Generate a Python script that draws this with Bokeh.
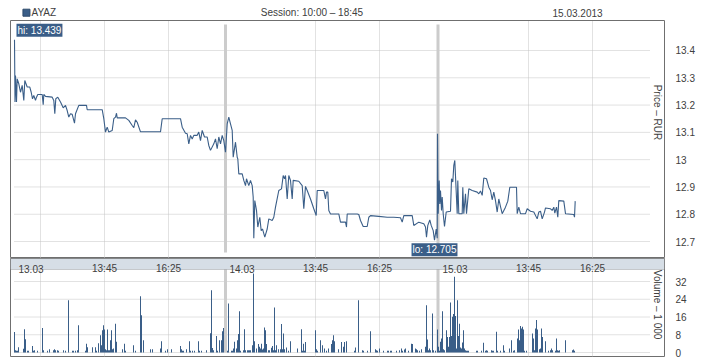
import math
from bokeh.plotting import figure
from bokeh.layouts import column
from bokeh.models import Range1d, FixedTicker, Span, Label, Grid, PrintfTickFormatter, BoxAnnotation
from bokeh.core.properties import value
from bokeh.embed import file_html
from bokeh.resources import INLINE

# ---------------- data ----------------
TICKER = "AYAZ"
SESSION_TEXT = "Session: 10:00 \u2013 18:45"
DATE_TEXT = "15.03.2013"
SLOT_MIN = 2.5            # minutes per x unit
OPEN_MIN = 600            # 10:00
session_start = [0, 211, 424]
session_sep = [211, 423.5]
session_label = ["13.03", "14.03", "15.03"]
time_label = ["13:45", "16:25"]
extra_grid_time = ["11:05"]   # unlabeled gridline in first session

s1_t = [0, 0.5, 1, 2, 2.7, 4.3, 6, 7.7, 9.3, 10.3,
        12.7, 15.3, 16.7, 18, 19.3, 21, 22, 23.3, 27.7, 28.7,
        29.3, 31, 37.7, 39.3, 40.3, 41.3, 43.3, 46, 48.7, 51,
        52.7, 54.3, 56, 57.7, 60, 61, 64.3, 72, 72.7, 87.7,
        89.3, 91, 92.7, 94.3, 97.7, 99.3, 101, 102, 102.7, 111,
        114.3, 117.7, 119.3, 121, 122.7, 126, 146, 147.7, 166, 167.7,
        171, 172.7, 174.3, 176, 177.7, 179.3, 182.7, 184.3, 186, 187.7,
        190, 192.7, 194.3, 196, 199.3, 201, 202.7, 204.3, 206, 207.7,
        209.3]
s1_p = [13.439, 13.211, 13.308, 13.211, 13.296, 13.278, 13.247, 13.272, 13.217, 13.290,
        13.266, 13.266, 13.247, 13.223, 13.235, 13.217, 13.229, 13.239, 13.239, 13.201,
        13.239, 13.232, 13.229, 13.217, 13.168, 13.223, 13.229, 13.211, 13.190, 13.199,
        13.180, 13.156, 13.168, 13.166, 13.134, 13.168, 13.199, 13.199, 13.183, 13.183,
        13.150, 13.101, 13.119, 13.101, 13.107, 13.150, 13.156, 13.170, 13.153, 13.153,
        13.144, 13.125, 13.117, 13.146, 13.137, 13.102, 13.102, 13.150, 13.150, 13.119,
        13.097, 13.095, 13.058, 13.089, 13.076, 13.089, 13.089, 13.101, 13.070, 13.107,
        13.083, 13.083, 13.052, 13.034, 13.058, 13.076, 13.040, 13.083, 13.058, 13.089,
        13.070]

s2_t = [211, 212.7, 214.3, 216, 217.7, 218.7, 221, 222.7, 223.3, 224.3,
        227.7, 229.3, 231, 232, 234.3, 236, 237.7, 238.7, 239.3, 240.3,
        242, 243.3, 245.3, 246.7, 248, 250.3, 252.7, 254.3, 257.7, 259.3,
        261, 264.3, 267, 268.7, 270, 271, 272.7, 274.3, 276, 277.7,
        278.7, 284.3, 287.7, 289.3, 291, 292.7, 296, 299.3, 301.7, 302.7,
        309.3, 311, 312, 313.3, 314.3, 316, 324.3, 326, 331, 332,
        332.7, 342.7, 344.3, 346, 348.7, 352.7, 354.3, 356, 364.3, 372.7,
        379.3, 386, 387.7, 389.3, 397.7, 399.3, 404.3, 409.3, 411, 412,
        413.3, 415.3, 416.7, 418.7, 420, 421.7, 422.7]
s2_p = [13.027, 13.131, 13.156, 13.131, 13.107, 13.009, 13.064, 13.009, 13.003, 12.948,
        12.948, 12.924, 12.905, 12.930, 12.905, 12.924, 12.905, 12.862, 12.712, 12.850,
        12.814, 12.753, 12.789, 12.740, 12.746, 12.716, 12.746, 12.783, 12.777, 12.789,
        12.826, 12.887, 12.893, 12.942, 12.930, 12.942, 12.856, 12.942, 12.924, 12.856,
        12.924, 12.921, 12.905, 12.820, 12.902, 12.887, 12.856, 12.820, 12.795, 12.887,
        12.887, 12.856, 12.881, 12.881, 12.814, 12.801, 12.801, 12.771, 12.771, 12.753,
        12.801, 12.801, 12.799, 12.777, 12.755, 12.755, 12.789, 12.795, 12.792, 12.789,
        12.789, 12.787, 12.771, 12.795, 12.795, 12.759, 12.771, 12.765, 12.753, 12.716,
        12.759, 12.779, 12.759, 12.740, 12.705, 12.746, 12.712]

s3_t = [423, 423.7, 424.7, 425.3, 426, 427, 427.7, 428.7, 430, 431.7,
        436, 437, 438.3, 439.3, 440.3, 442.7, 443.3, 444.3, 447.7, 448.3,
        449.3, 451, 452, 454.3, 457.7, 462.7, 464.3, 466, 467.7, 469.3,
        472, 474.3, 476, 477.7, 479.3, 481, 482.7, 484.3, 486, 487.7,
        491, 493.3, 495.3, 502, 502.7, 504.3, 506, 511, 512.7, 516,
        519.3, 522.7, 524.3, 526, 527.7, 530, 531, 536, 537.7, 539.3,
        540.3, 542, 543.3, 544.3, 549.3, 551, 559.3, 560, 560.7]
s3_p = [13.095, 12.802, 12.924, 12.838, 12.887, 12.814, 12.863, 12.802, 12.755, 12.808,
        12.811, 12.930, 12.918, 12.979, 12.997, 12.802, 12.924, 12.802, 12.802, 12.899,
        12.802, 12.875, 12.802, 12.893, 12.887, 12.881, 12.875, 12.885, 12.869, 12.933,
        12.930, 12.899, 12.887, 12.853, 12.881, 12.850, 12.808, 12.856, 12.828, 12.802,
        12.826, 12.848, 12.899, 12.899, 12.802, 12.826, 12.802, 12.802, 12.820, 12.811,
        12.808, 12.783, 12.808, 12.811, 12.783, 12.808, 12.823, 12.820, 12.814, 12.826,
        12.804, 12.826, 12.789, 12.850, 12.848, 12.802, 12.799, 12.789, 12.848]

vol_t = [0, 1, 2, 3, 4, 9, 10, 11, 13, 14,
         18, 19, 20, 23, 28, 29, 33, 35, 39, 40,
         41, 43, 44, 49, 51, 54, 58, 59, 61, 63,
         64, 71, 72, 73, 78, 81, 82, 84, 86, 87,
         88, 89, 90, 91, 92, 93, 94, 95, 96, 97,
         98, 99, 101, 102, 108, 110, 111, 119, 121, 126,
         127, 129, 136, 138, 146, 147, 151, 153, 157, 166,
         167, 168, 169, 172, 175, 176, 178, 180, 184, 185,
         187, 192, 196, 197, 198, 199, 202, 203, 205, 207,
         208, 209,
         213, 214, 217, 218, 219, 220, 222, 223, 224, 225,
         226, 229, 230, 231, 233, 234, 235, 236, 238, 239,
         240, 242, 244, 245, 246, 247, 248, 249, 250, 251,
         252, 254, 255, 257, 258, 259, 260, 261, 262, 264,
         266, 267, 268, 269, 270, 272, 274, 276, 283, 287,
         288, 289, 290, 291, 301, 302, 303, 306, 308, 310,
         312, 314, 317, 318, 319, 320, 324, 327, 329, 330,
         332, 340, 341, 344, 348, 349, 353, 356, 361, 362,
         363, 365, 369, 373, 374, 376, 377, 382, 385, 387,
         388, 390, 391, 394, 397, 398, 401, 402, 403, 405,
         407, 411, 412, 413, 414, 415, 416, 418, 419, 421,
         423, 424, 425, 426, 427, 428, 429, 430, 432, 433,
         434, 435, 436, 437, 438, 439, 440, 441, 442, 443,
         444, 445, 446, 447, 448, 449, 450, 451, 452, 453,
         454, 462, 463, 467, 469, 471, 472, 473, 477, 478,
         479, 482, 483, 486, 489, 490, 495, 497, 499, 500,
         503, 504, 505, 506, 507, 508, 509, 510, 512, 518,
         519, 520, 521, 522, 523, 525, 526, 527, 528, 531,
         534, 536, 537, 538, 541, 542, 543, 544, 545, 551,
         558, 559, 560]
vol_v = [9.2, 1.0, 0.8, 0.8, 2.4, 1.7, 10.5, 6.0, 0.8, 0.8,
         2.9, 0.8, 1.0, 0.8, 11.0, 1.0, 0.8, 1.5, 1.0, 1.5,
         1.0, 1.0, 0.8, 1.0, 0.8, 23.6, 0.8, 0.8, 0.8, 1.0,
         12.3, 0.8, 4.0, 2.4, 2.4, 2.4, 0.8, 4.2, 7.8, 3.3,
         10.0, 12.3, 10.4, 1.5, 1.0, 10.4, 1.0, 1.0, 5.5, 10.0,
         1.5, 1.8, 13.0, 4.8, 1.5, 4.0, 0.8, 3.3, 0.8, 25.4,
         16.8, 5.5, 1.5, 1.5, 1.8, 5.1, 0.8, 1.5, 1.5, 2.9,
         1.5, 0.8, 0.8, 1.5, 5.1, 0.8, 0.8, 0.8, 5.1, 0.8,
         0.8, 1.0, 8.7, 28.1, 2.0, 1.0, 7.4, 0.8, 5.5, 5.5,
         9.6, 11.1,
         0.8, 22.1, 0.8, 0.8, 1.8, 4.8, 1.8, 5.5, 8.3, 18.6,
         0.8, 1.0, 10.5, 1.0, 1.0, 1.0, 1.0, 1.0, 3.3, 35.6,
         5.1, 1.8, 3.8, 2.6, 1.8, 4.0, 1.4, 1.8, 11.3, 10.0,
         3.8, 1.0, 1.0, 2.1, 2.9, 1.0, 20.3, 1.0, 3.3, 1.5,
         1.5, 12.8, 1.5, 8.6, 1.5, 2.3, 0.8, 5.1, 1.8, 10.5,
         0.8, 4.0, 0.8, 4.7, 10.0, 1.5, 0.8, 5.5, 3.3, 1.8,
         0.8, 1.8, 3.8, 5.5, 7.8, 5.1, 1.5, 4.7, 2.6, 4.7,
         5.1, 0.8, 2.3, 23.6, 1.0, 0.8, 0.8, 9.6, 1.5, 1.0,
         0.8, 1.8, 0.8, 0.8, 0.8, 0.8, 0.8, 0.8, 1.0, 1.8,
         0.8, 1.4, 1.8, 0.8, 4.0, 3.8, 1.8, 1.5, 1.0, 0.8,
         1.5, 2.6, 21.3, 5.9, 1.0, 1.8, 1.0, 17.6, 1.0, 0.8,
         10.4, 2.6, 0.8, 4.8, 6.3, 18.6, 1.5, 1.0, 10.0, 7.0,
         2.6, 7.0, 22.5, 7.4, 16.1, 17.3, 34.1, 16.4, 1.8, 23.6,
         7.4, 13.0, 2.3, 1.8, 4.5, 10.0, 1.8, 1.0, 0.8, 0.8,
         0.8, 0.8, 0.8, 0.8, 4.4, 0.8, 1.0, 0.8, 1.0, 0.8,
         0.8, 9.3, 0.8, 0.8, 3.3, 0.8, 1.8, 5.5, 0.8, 1.0,
         6.3, 10.4, 5.5, 11.9, 10.8, 11.6, 10.4, 0.8, 0.8, 8.6,
         6.3, 1.0, 10.8, 14.6, 10.4, 1.5, 1.8, 10.8, 7.0, 5.1,
         0.8, 1.0, 1.8, 1.0, 0.8, 6.3, 1.0, 0.8, 1.0, 5.5,
         1.0, 1.4, 0.8]

price_ticks = [12.7, 12.8, 12.9, 13.0, 13.1, 13.2, 13.3, 13.4]
vol_ticks = [0, 8, 16, 24, 32]

# ---------------- style ----------------
FONT = "Liberation Sans"
BLUE = "#3a5e88"
BAND = "#d6dee6"
BORDER = "#6f6f6f"
GRID = "#c4c4c4"
SEP = "#cccccc"
TXT = "#404040"
W = 718
LB, RB = 10, 54
GRID_X0, GRID_X1 = 0, 635
VOL_BAND_BOTTOM = 37.41   # value level of the date band's lower edge
VOL_BAND_TEXT = 37.86     # baseline of date band texts


def to_slot(hhmm):
    h, m = hhmm.split(":")
    return (int(h) * 60 + int(m) - OPEN_MIN) / SLOT_MIN


t_all = s1_t + s2_t + s3_t
p_all = s1_p + s2_p + s3_p

grid_x = [session_start[0] + to_slot(t) for t in extra_grid_time]
tick_x, tick_txt = [], []
for s in session_start:
    for lab in time_label:
        tick_x.append(s + to_slot(lab))
        tick_txt.append(lab)
grid_x += tick_x

x_range = Range1d(-4, 650)


def base(height, **kw):
    p = figure(width=W, height=height, toolbar_location=None, output_backend="svg",
               min_border_left=LB, min_border_right=RB, min_border_top=0,
               min_border_bottom=0, **kw)
    p.background_fill_color = "white"
    p.border_fill_color = "white"
    return p


def style_frame(p, yticks, fmt, sep_lo, sep_hi):
    for g in p.grid:
        g.visible = False
    p.add_layout(Grid(dimension=0, ticker=FixedTicker(ticks=grid_x),
                      grid_line_color=GRID, grid_line_dash="1 1", grid_line_width=1))
    p.segment(x0=[GRID_X0] * len(yticks), x1=[GRID_X1] * len(yticks), y0=yticks, y1=yticks,
              line_color=GRID, line_dash="1 1", line_width=1)
    p.segment(x0=session_sep, x1=session_sep, y0=[sep_lo] * len(session_sep),
              y1=[sep_hi] * len(session_sep), line_color=SEP, line_width=3)
    p.outline_line_color = BORDER
    p.outline_line_width = 1
    ax = p.yaxis[0]
    ax.ticker = FixedTicker(ticks=yticks)
    ax.formatter = PrintfTickFormatter(format=fmt)
    ax.axis_line_color = None
    ax.major_tick_line_color = None
    ax.minor_tick_line_color = None
    ax.major_tick_out = 0
    ax.major_tick_in = 0
    ax.major_label_standoff = 11
    ax.major_label_text_font = FONT
    ax.major_label_text_font_size = "10px"
    ax.major_label_text_color = TXT


# header
hdr = figure(width=W, height=19, toolbar_location=None, output_backend="svg",
             x_range=Range1d(0, W), y_range=Range1d(0, 19),
             x_axis_location=None, y_axis_location=None,
             min_border_left=0, min_border_right=0, min_border_top=0, min_border_bottom=0)
hdr.grid.visible = False
hdr.outline_line_color = None
hdr.scatter([17.5], [6.8], marker="square", size=7, fill_color=BLUE, line_color="#2d4a6b")
hdr.text(x=[23], y=[6.8], text=[TICKER], text_font=value(FONT), text_font_size="10px",
         text_baseline="middle", text_align="left", text_color=TXT)
hdr.text(x=[331], y=[6.8], text=[SESSION_TEXT], text_font=value(FONT), text_font_size="10px",
         text_baseline="middle", text_align="center", text_color=TXT)
hdr.text(x=[650], y=[6.8], text=[DATE_TEXT], text_font=value(FONT), text_font_size="10px",
         text_baseline="middle", text_align="right", text_color=TXT)

# price panel
pp = base(239, x_range=x_range, y_range=Range1d(12.6378, 13.5099),
          x_axis_location=None, y_axis_location="right")
pp.min_border_top = 1
style_frame(pp, price_ticks, "%g", 12.66, 13.495)
pp.line(t_all, p_all, line_color=BLUE, line_width=1.1)

i_hi = p_all.index(max(p_all))
i_lo = p_all.index(min(p_all))
lab_kw = dict(text_font=FONT, text_font_size="10px", text_color="white",
              background_fill_color=BLUE, padding=1)
pp.add_layout(Label(x=t_all[i_hi], y=p_all[i_hi], text=f"hi: {p_all[i_hi]:.3f}",
                    text_align="left", text_baseline="bottom", x_offset=2, y_offset=3, **lab_kw))
pp.add_layout(Label(x=t_all[i_lo], y=p_all[i_lo], text=f"lo: {p_all[i_lo]:.3f}",
                    text_align="center", text_baseline="top", y_offset=-3, **lab_kw))
pp.add_layout(Label(x=643, y=13.173, text="Price \u2013 RUR", angle=-math.pi / 2,
                    text_align="center", text_baseline="middle", text_font=FONT,
                    text_font_size="10px", text_color=TXT))

# volume panel with the date band on top
vp = base(102, x_range=x_range, y_range=Range1d(-1.80, 42.37),
          x_axis_location=None, y_axis_location="right")
vp.min_border_bottom = 4
style_frame(vp, vol_ticks, "%d", 0, 40)
vp.vbar(x=vol_t, top=vol_v, width=1.0, fill_color=BLUE, line_color=None)
vp.add_layout(BoxAnnotation(bottom=VOL_BAND_BOTTOM, fill_color=BAND, fill_alpha=1.0,
                            line_color=BORDER, line_width=1, level="annotation"))
vp.text(x=[s + 4 for s in session_start], y=[VOL_BAND_TEXT] * len(session_start),
        text=session_label, text_font=value(FONT), text_font_size="10px",
        text_align="left", text_baseline="alphabetic", text_color=TXT, level="overlay")
vp.text(x=tick_x, y=[VOL_BAND_TEXT] * len(tick_x), text=tick_txt,
        text_font=value(FONT), text_font_size="10px", text_align="center",
        text_baseline="alphabetic", text_color=TXT, level="overlay")
vp.add_layout(Label(x=643, y=21.6, text="Volume \u2013 1 000", angle=-math.pi / 2,
                    text_align="center", text_baseline="middle", text_font=FONT,
                    text_font_size="10px", text_color=TXT))

layout = column(hdr, pp, vp, spacing=0)
open("out.html", "w").write(file_html(layout, INLINE))
